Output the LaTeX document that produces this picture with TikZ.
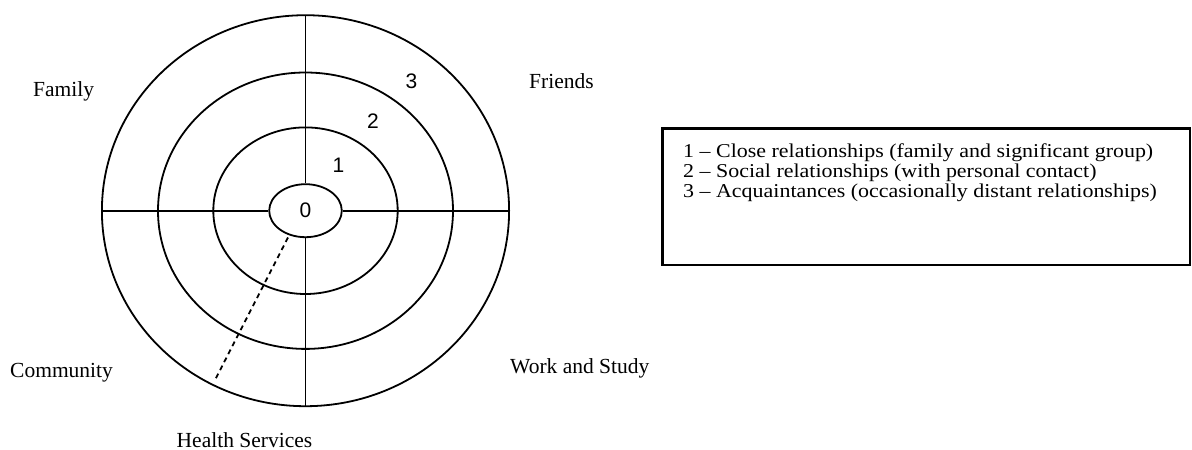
\documentclass[tikz,border=0pt]{standalone}
\usepackage{fontspec}
\setmainfont{Liberation Serif}
\newfontfamily\digitfont{Liberation Sans}
\newfontfamily\legfont[FakeStretch=1.12]{Liberation Serif}
\usetikzlibrary{shapes.geometric}
\begin{document}
\begin{tikzpicture}[x=1pt,y=-1pt,
  ring/.style={line width=1.8pt},
  lbl/.style={anchor=base west,inner sep=0pt,font=\fontsize{21.5}{23}\selectfont},
  leg/.style={anchor=base west,inner sep=0pt,font=\legfont\fontsize{19.6}{21}\selectfont},
  num/.style={inner sep=0pt,font=\digitfont\fontsize{21}{22}\selectfont}]
\useasboundingbox (0,0) rectangle (1192,450);
% rings
\draw[ring] (305.5,210.7) ellipse [x radius=203.6, y radius=195.5];
\draw[ring] (305.5,210.7) ellipse [x radius=147.5, y radius=138.2];
\draw[ring] (305.5,210.7) ellipse [x radius=92.2, y radius=83.3];
\node[ring,draw,ellipse,minimum width=72.6pt,minimum height=53pt,inner sep=0pt,num] (c0) at (305.5,210.7) {0};
% axes
\coordinate (L) at (101.9,210.7);
\coordinate (R) at (509.1,210.7);
\coordinate (T) at (305.5,15.2);
\coordinate (B) at (305.5,406.2);
\draw[ring] (L) -- (c0.west);
\draw[ring] (c0.east) -- (R);
\draw[ring] (T) -- (c0.north);
\draw[ring] (c0.south) -- (B);
% dashed
\coordinate (d1) at (288,237.5);
\coordinate (d2) at (215,380);
\draw[ring,dash pattern=on 5pt off 4pt] (d1) -- (d2);
% numbers
\node[num] (n1) at (338.5,165.5) {1};
\node[num] (n2) at (373,121.5) {2};
\node[num] (n3) at (411.5,81.5) {3};
% labels
\node[lbl] (fam) at (33,96) {Family};
\node[lbl] (fri) at (529,88) {Friends};
\node[lbl] (com) at (10,377) {Community};
\node[lbl] (wrk) at (510,373) {Work and Study};
\node[lbl] (hs) at (176.5,447) {Health Services};
% legend
\draw[line width=2.4pt] (662.5,128.5) rectangle (1190,265);
\node[leg] (l1) at (683,157.5) {1 – Close relationships (family and significant group)};
\node[leg] (l2) at (683,177.5) {2 – Social relationships (with personal contact)};
\node[leg] (l3) at (683,197) {3 – Acquaintances (occasionally distant relationships)};
\end{tikzpicture}
\end{document}
